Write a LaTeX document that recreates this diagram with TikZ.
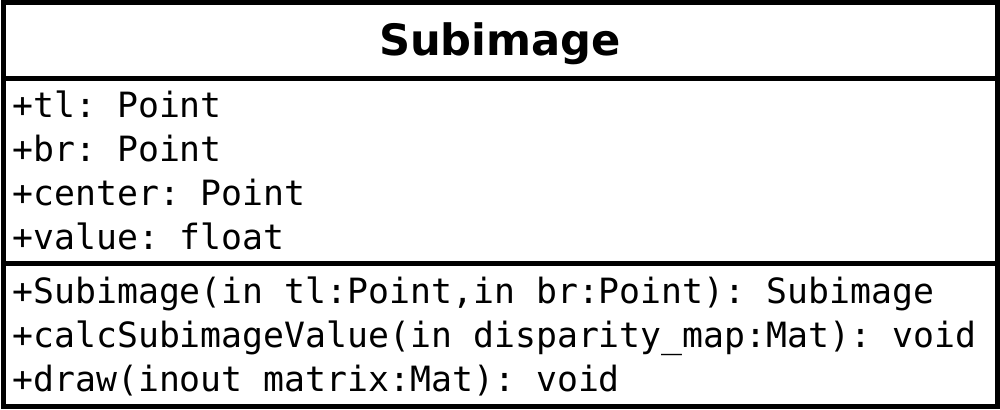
\documentclass[tikz,border=0pt]{standalone}
\usepackage{fontspec}
\setsansfont{DejaVu Sans}
\setmonofont{DejaVu Sans Mono}
\usetikzlibrary{positioning}
\tikzstyle{compartment} = [rectangle, line width=2.5pt, minimum width=497pt, draw=black, anchor=north west, inner sep=0pt, outer sep=0pt]
\tikzstyle{classname} = [font=\fontsize{21.6}{26}\sffamily\bfseries, anchor=base, inner sep=0pt]
\tikzstyle{member} = [font=\fontsize{17.4}{22}\ttfamily, anchor=base west, inner sep=0pt]

\begin{document}
\begin{tikzpicture}[x=0.5pt, y=-0.5pt]
		\useasboundingbox (0,0) rectangle (1000,410);
		\node (TitleBox) [compartment, minimum height=38pt] at (3,3) {};
		\node (AttrBox) [compartment, minimum height=92.5pt] at (TitleBox.south west) {};
		\node (MethodBox) [compartment, minimum height=71.5pt] at (AttrBox.south west) {};
		\node (Title) [classname] at (500,56) {Subimage};
		\node (AttrTl) [member] at (12,118) {+tl: Point};
		\node (AttrBr) [member] at (12,162) {+br: Point};
		\node (AttrCenter) [member] at (12,206) {+center: Point};
		\node (AttrValue) [member] at (12,250) {+value: float};
		\node (OpCtor) [member] at (12,304) {+Subimage(in tl:Point,in br:Point): Subimage};
		\node (OpCalc) [member] at (12,348) {+calcSubimageValue(in disparity\_map:Mat): void};
		\node (OpDraw) [member] at (12,392) {+draw(inout matrix:Mat): void};
\end{tikzpicture}
\end{document}
